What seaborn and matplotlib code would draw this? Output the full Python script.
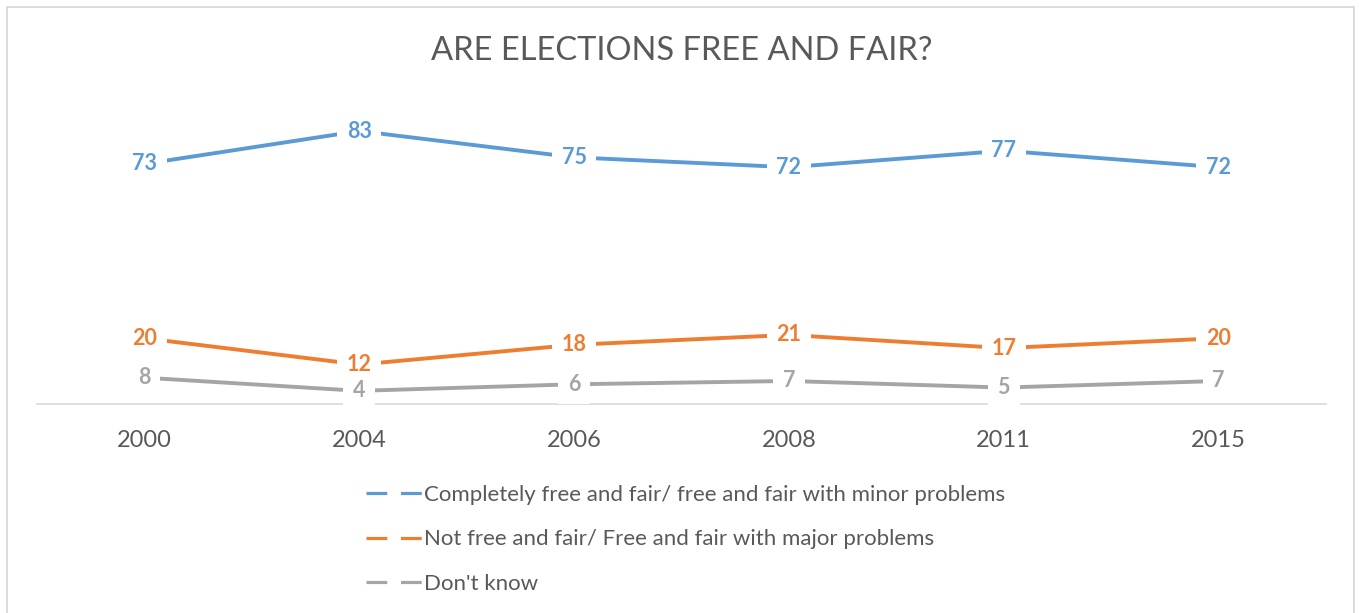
import matplotlib
matplotlib.use("Agg")
import matplotlib.pyplot as plt
from matplotlib.lines import Line2D
from matplotlib.patches import Rectangle
import seaborn as sns
import pandas as pd

years = ["2000", "2004", "2006", "2008", "2011", "2015"]
free_fair = [73, 83, 75, 72, 77, 72]
not_free_fair = [20, 12, 18, 21, 17, 20]
dont_know = [8, 4, 6, 7, 5, 7]
series_names = [
    "Completely free and fair/ free and fair with minor problems",
    "Not free and fair/ Free and fair with major problems",
    "Don't know",
]
colors = ["#5B9BD5", "#ED7D31", "#A5A5A5"]
title = "ARE ELECTIONS FREE AND FAIR?"

df = pd.DataFrame({
    "year": years * 3,
    "value": free_fair + not_free_fair + dont_know,
    "series": [series_names[0]] * 6 + [series_names[1]] * 6 + [series_names[2]] * 6,
})

sns.set_theme(style="white")
plt.rcParams["font.family"] = ["Lato", "DejaVu Sans"]
text_color = "#595959"

fig = plt.figure(figsize=(13.59, 6.13), dpi=100)
ax = fig.add_axes([37 / 1359, 209 / 613, 1289 / 1359, 296 / 613])

sns.lineplot(data=df, x="year", y="value", hue="series", palette=colors,
             linewidth=2.8, ax=ax, legend=False, sort=False)

ax.set_xlim(-0.5, 5.5)
ax.set_ylim(0, 90)
ax.set_xlabel("")
ax.set_ylabel("")
ax.set_yticks([])
for side in ["top", "left", "right"]:
    ax.spines[side].set_visible(False)
ax.spines["bottom"].set_color("#D9D9D9")
ax.spines["bottom"].set_linewidth(1.2)
ax.tick_params(axis="x", length=0, pad=19, labelsize=17, labelcolor=text_color)

# value labels centred on each point, on a white box that interrupts the line
for vals, col in zip([free_fair, not_free_fair, dont_know], colors):
    for i, v in enumerate(vals):
        ax.text(i, v, str(v), ha="center", va="center", fontsize=15.5,
                fontweight="bold", color=col, zorder=5,
                bbox=dict(boxstyle="square,pad=0.45", fc="white", ec="none"))

fig.text(682 / 1359, 1 - 51 / 613, title, ha="center", va="center",
         fontsize=23.5, fontweight="normal", color=text_color)

handles = [Line2D([], [], color=c, linewidth=2.3, dashes=(6.5, 4.3)) for c in colors]
fig.legend(handles, series_names, loc="upper left",
           bbox_to_anchor=(366 / 1359, 1 - 485 / 613), frameon=False,
           fontsize=16, labelcolor=text_color, handlelength=2.5,
           handletextpad=0.12, labelspacing=1.1, borderpad=0, borderaxespad=0)

fig.patches.append(Rectangle((7 / 1359, -0.05), 1347 / 1359, 1.05 - 7 / 613,
                             transform=fig.transFigure, fill=False,
                             ec="#D9D9D9", lw=1.3))

fig.savefig("out.png", dpi=100, facecolor="white")
